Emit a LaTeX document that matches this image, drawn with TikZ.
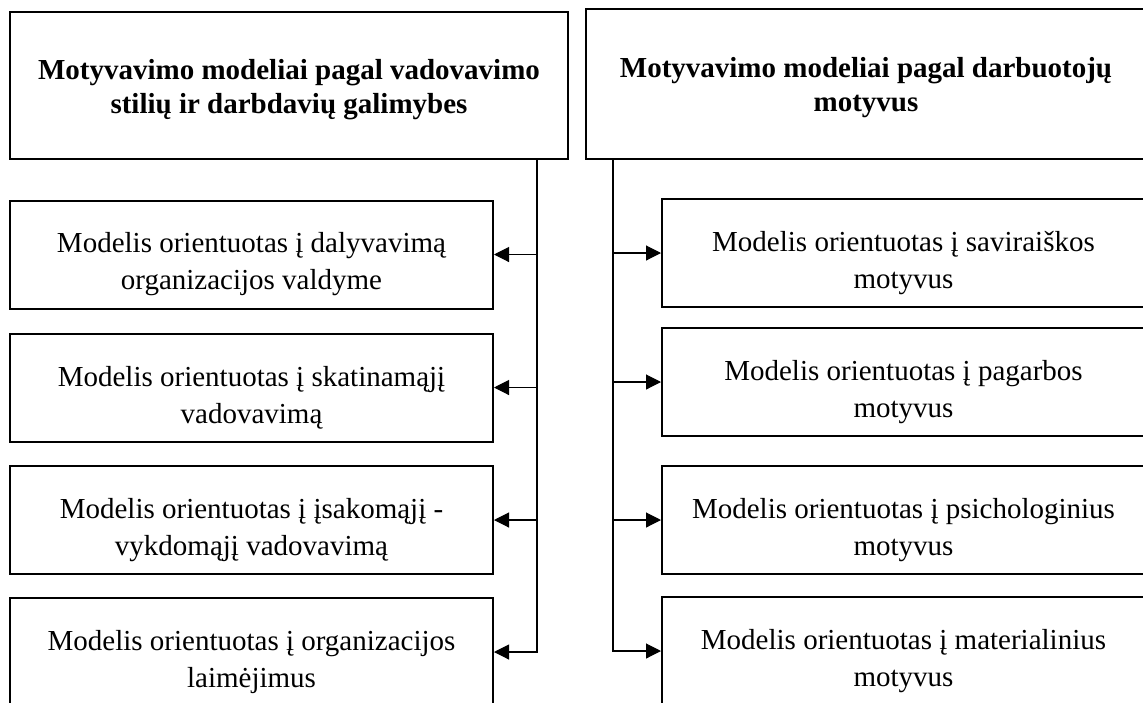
\documentclass[tikz,border=0pt]{standalone}
\usepackage{fontspec}
\setmainfont{Liberation Serif}
\usetikzlibrary{arrows.meta}
\newcommand\lowstrut[1]{\rule{0pt}{#1}}
\tikzset{
  headbox/.style={draw,line width=2pt,align=center,inner sep=0pt,
    font=\fontsize{29}{34}\selectfont\bfseries},
  modelbox/.style={draw,line width=2pt,align=center,inner sep=0pt,
    minimum width=483pt,minimum height=108pt,font=\fontsize{29}{37}\selectfont},
  link/.style={line width=1.1pt,-{Triangle[length=15pt,width=15pt]}},
}
\begin{document}
\begin{tikzpicture}[x=1pt,y=-1pt]
\useasboundingbox (0,0) rectangle (1143,702);
\clip (0,0) rectangle (1143,702);
% headers
\node[headbox,minimum width=558pt,minimum height=147pt] (lhead) at (289,85.5)
  {\lowstrut{28pt}Motyvavimo modeliai pagal vadovavimo\\stilių ir darbdavių galimybes};
\node[headbox,minimum width=560pt,minimum height=150pt] (rhead) at (866,84)
  {\lowstrut{28pt}Motyvavimo modeliai pagal darbuotojų\\motyvus};

% left column
\node[modelbox] (l1) at (251.5,254.5) {\lowstrut{40pt}Modelis orientuotas į dalyvavimą\\organizacijos valdyme};
\node[modelbox] (l2) at (251.5,387.5) {\lowstrut{40pt}Modelis orientuotas į skatinamąjį\\vadovavimą};
\node[modelbox] (l3) at (251.5,520) {\lowstrut{40pt}Modelis orientuotas į įsakomąjį -\\vykdomąjį vadovavimą};
\node[modelbox] (l4) at (251.5,652) {\lowstrut{40pt}Modelis orientuotas į organizacijos\\laimėjimus};

% right column
\node[modelbox] (r1) at (903.5,253) {\lowstrut{40pt}Modelis orientuotas į saviraiškos\\motyvus};
\node[modelbox] (r2) at (903.5,382) {\lowstrut{40pt}Modelis orientuotas į pagarbos\\motyvus};
\node[modelbox] (r3) at (903.5,520) {\lowstrut{40pt}Modelis orientuotas į psichologinius\\motyvus};
\node[modelbox] (r4) at (903.5,651) {\lowstrut{40pt}Modelis orientuotas į materialinius\\motyvus};

% connectors
\coordinate (lbus) at (537,652);
\coordinate (rbus) at (613,651);
\draw[link] (lhead.south -| lbus) -- (lbus) -- (l4.east);
\draw[link] (lbus |- l1.east) -- (l1.east);
\draw[link] (lbus |- l2.east) -- (l2.east);
\draw[link] (lbus |- l3.east) -- (l3.east);

\draw[link] (rhead.south -| rbus) -- (rbus) -- (r4.west);
\draw[link] (rbus |- r1.west) -- (r1.west);
\draw[link] (rbus |- r2.west) -- (r2.west);
\draw[link] (rbus |- r3.west) -- (r3.west);
\end{tikzpicture}
\end{document}
